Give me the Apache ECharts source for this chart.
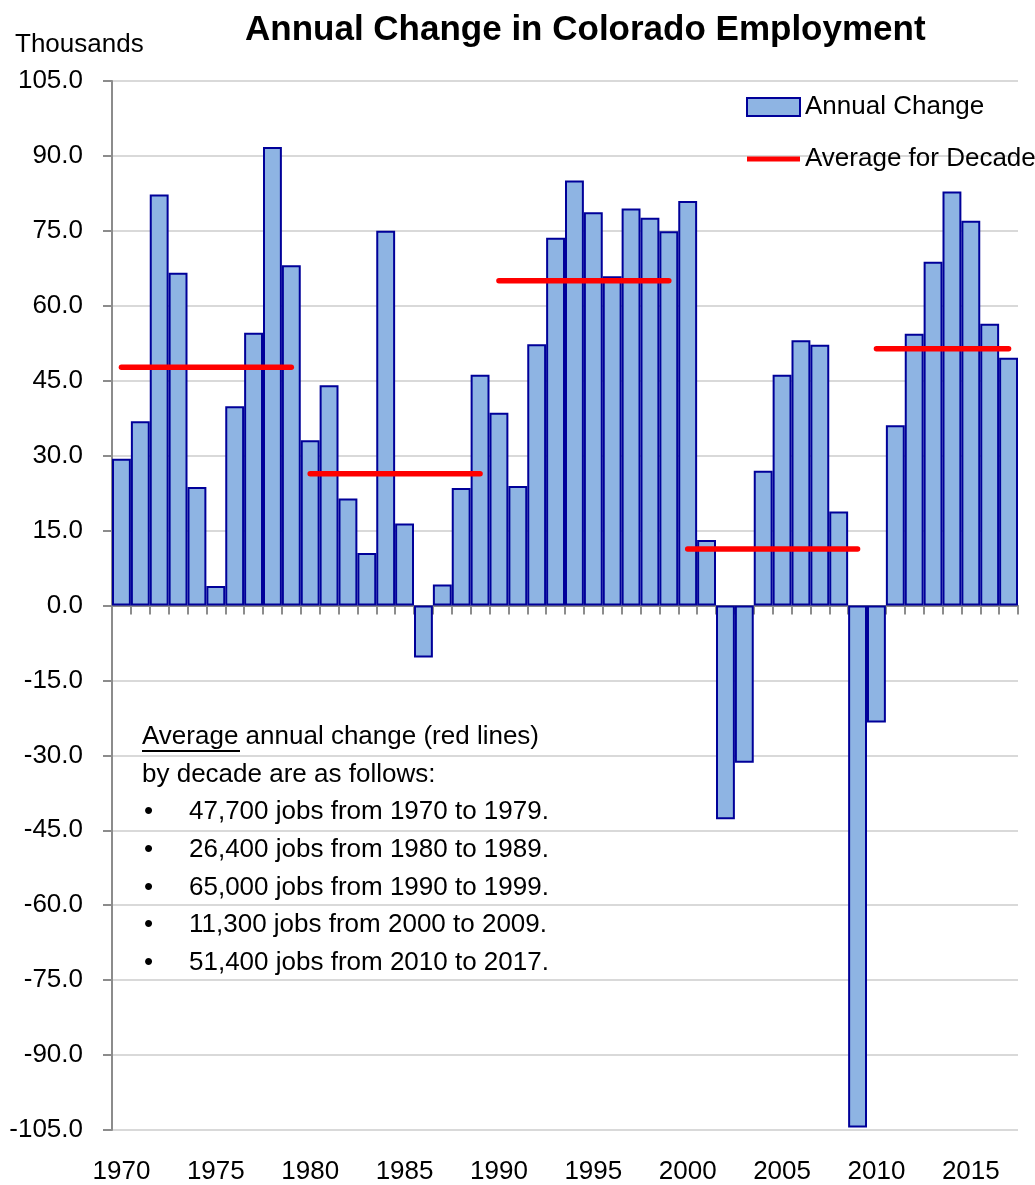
<!DOCTYPE html>
<html>
<head>
<meta charset="utf-8">
<script src="https://cdn.jsdelivr.net/npm/echarts@6/dist/echarts.min.js"></script>
<style>
  html, body { margin: 0; padding: 0; background: #ffffff; }
  #chart { width: 1035px; height: 1185px; }
</style>
</head>
<body>
<div id="chart"></div>
<script>
// Colorado nonfarm employment, change from previous year (thousands of jobs)
const years = [
  1970, 1971, 1972, 1973, 1974, 1975, 1976, 1977, 1978, 1979,
  1980, 1981, 1982, 1983, 1984, 1985, 1986, 1987, 1988, 1989,
  1990, 1991, 1992, 1993, 1994, 1995, 1996, 1997, 1998, 1999,
  2000, 2001, 2002, 2003, 2004, 2005, 2006, 2007, 2008, 2009,
  2010, 2011, 2012, 2013, 2014, 2015, 2016, 2017
];
const annualChange = [
  29.4, 36.9, 82.3, 66.6, 23.7, 3.9, 39.9, 54.6, 91.8, 68.1,
  33.1, 44.1, 21.4, 10.5, 75.0, 16.4, -10.4, 4.2, 23.5, 46.2,
  38.6, 23.9, 52.3, 73.6, 85.1, 78.7, 65.9, 79.5, 77.6, 74.9,
  81.0, 13.1, -42.8, -31.5, 27.0, 46.2, 53.1, 52.2, 18.8, -104.5,
  -23.4, 36.1, 54.4, 68.8, 82.9, 77.0, 56.4, 49.6
];

// Decade averages (thousands) and the years each one covers
const decadeStart = [1970, 1980, 1990, 2000, 2010];
const decadeEnd = [1979, 1989, 1999, 2009, 2017];
const decadeAverage = [47.7, 26.4, 65.0, 11.3, 51.4];

// Value axis range and step
const yMin = -105;
const yMax = 105;
const yStep = 15;
const xLabelEvery = 5;

const FONT = '"Liberation Sans", Arial, Helvetica, sans-serif';
const BAR_FILL = '#8eb4e3';
const BAR_EDGE = '#000099';
const AXIS_GREY = '#8c8c8c';
const GRID_GREY = '#d9d9d9';

const chart = echarts.init(document.getElementById('chart'), null, { renderer: 'canvas' });

const averageSeries = decadeStart.map((start, i) => ({
  type: 'line',
  name: 'Average for Decade',
  xAxisIndex: 0,
  data: years.map(y => (y === start || y === decadeEnd[i]) ? decadeAverage[i] : null),
  connectNulls: true,
  symbol: 'none',
  lineStyle: { color: '#ff0000', width: 5.5, cap: 'round' },
  itemStyle: { color: '#ff0000' },
  z: 5,
  silent: true
}));

function jobsText(v) {
  return Math.round(v * 1000).toLocaleString('en-US');
}

const noteLines = [
  'Average annual change (red lines)',
  'by decade are as follows:'
].concat(decadeAverage.map((v, i) =>
  jobsText(v) + ' jobs from ' + decadeStart[i] + ' to ' + decadeEnd[i] + '.'));

const NOTE_FONT = '26px ' + FONT;
const noteTop = 737;
const noteStep = 37.6;
const noteElements = [];
noteLines.forEach((line, i) => {
  const y = noteTop + i * noteStep;
  if (i < 2) {
    noteElements.push({
      type: 'text', x: 142, y: y,
      style: { text: line, font: NOTE_FONT, fill: '#000', verticalAlign: 'middle' }
    });
  } else {
    noteElements.push({
      type: 'text', x: 144, y: y,
      style: { text: '\u2022', font: NOTE_FONT, fill: '#000', verticalAlign: 'middle' }
    });
    noteElements.push({
      type: 'text', x: 189, y: y,
      style: { text: line, font: NOTE_FONT, fill: '#000', verticalAlign: 'middle' }
    });
  }
});
// underline under the word "Average"
noteElements.push({
  type: 'line',
  shape: { x1: 142, y1: 751, x2: 240, y2: 751 },
  style: { stroke: '#000', lineWidth: 2 }
});

const option = {
  backgroundColor: '#ffffff',
  animation: false,
  textStyle: { fontFamily: FONT },
  title: {
    text: 'Annual Change in Colorado Employment',
    left: 240,
    top: 8,
    textStyle: { fontFamily: FONT, fontSize: 35, fontWeight: 'bold', color: '#000' }
  },
  legend: {
    orient: 'vertical',
    left: 741,
    top: 89,
    itemWidth: 53,
    itemHeight: 18,
    itemGap: 26,
    data: [
      { name: 'Annual Change', icon: 'rect' },
      { name: 'Average for Decade', icon: 'path://M0,0 L56,0 L56,5.5 L0,5.5 Z' }
    ],
    textStyle: { fontFamily: FONT, fontSize: 26, color: '#000' },
    selectedMode: false
  },
  grid: {
    left: 112, right: 17, top: 81, bottom: 55,
    containLabel: false,
    outerBoundsMode: 'none'
  },
  xAxis: [
    {
      type: 'category',
      data: years,
      boundaryGap: true,
      axisLine: { onZero: true, lineStyle: { color: AXIS_GREY, width: 2 } },
      axisTick: { show: true, interval: 0, length: 9, lineStyle: { color: AXIS_GREY, width: 2 } },
      axisLabel: { show: false },
      splitLine: { show: false }
    },
    {
      type: 'category',
      data: years,
      position: 'bottom',
      boundaryGap: true,
      axisLine: { show: false, onZero: false },
      axisTick: { show: false },
      axisLabel: {
        interval: xLabelEvery - 1,
        fontFamily: FONT, fontSize: 26, color: '#000', margin: 29
      },
      splitLine: { show: false }
    }
  ],
  yAxis: {
    type: 'value',
    min: yMin,
    max: yMax,
    interval: yStep,
    axisLine: { show: true, lineStyle: { color: AXIS_GREY, width: 2 } },
    axisTick: { show: true, length: 9, lineStyle: { color: AXIS_GREY, width: 2 } },
    axisLabel: {
      formatter: v => v.toFixed(1),
      fontFamily: FONT, fontSize: 26, color: '#000', margin: 29
    },
    splitLine: { show: true, lineStyle: { color: GRID_GREY, width: 2 } }
  },
  series: [
    {
      type: 'bar',
      name: 'Annual Change',
      xAxisIndex: 0,
      data: annualChange,
      barCategoryGap: '0%',
      itemStyle: { color: BAR_FILL, borderColor: BAR_EDGE, borderWidth: 2 },
      z: 2
    }
  ].concat(averageSeries),
  graphic: [
    {
      type: 'text', x: 15, y: 45,
      style: { text: 'Thousands', font: '26px ' + FONT, fill: '#000', verticalAlign: 'middle' }
    }
  ].concat(noteElements)
};

chart.setOption(option);
</script>
</body>
</html>
